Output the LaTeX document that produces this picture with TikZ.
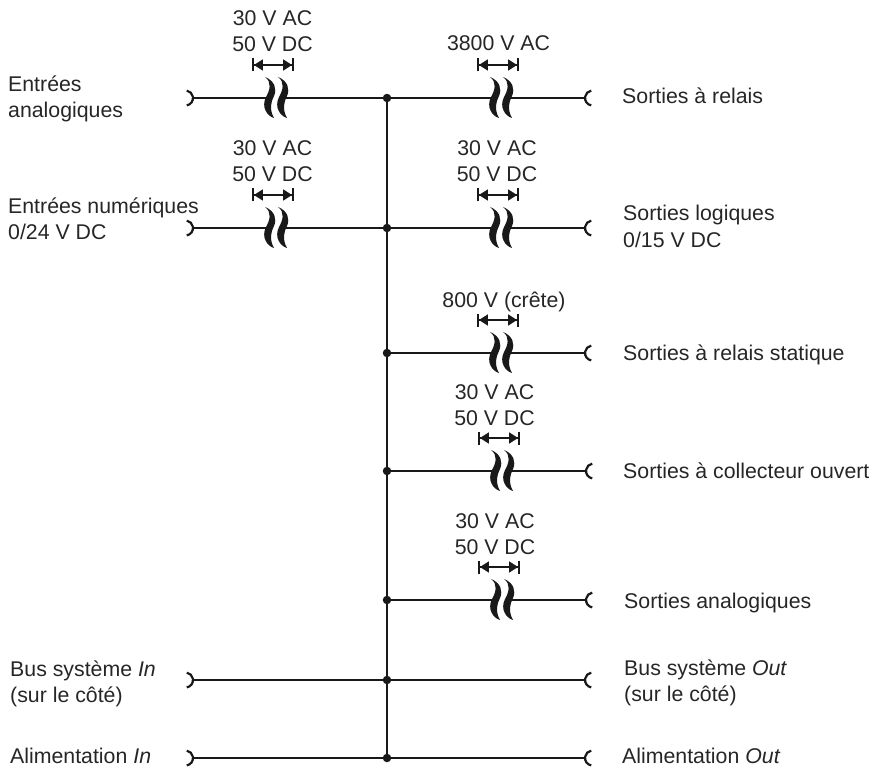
\documentclass[tikz,border=0pt]{standalone}
\usepackage{fontspec}
\setmainfont{Liberation Sans}
\usetikzlibrary{arrows.meta}

\tikzset{
    wire/.style={line width=2.2pt, draw=black!90},
    label/.style={inner sep=0pt, anchor=base west, align=left, font=\fontsize{21.3}{26}\selectfont, text=black!85},
    volt/.style={inner sep=0pt, anchor=base, align=center, font=\fontsize{21.3}{26}\selectfont, text=black!85},
    junction/.style={circle, fill=black!90, inner sep=0pt, minimum size=8.5pt},
    % gap in the wire with the isolation span above it
    pics/coupure/.style={code={
        \coordinate (-w) at (-8,0);
        \coordinate (-e) at (10,0);
        \draw[line width=1.4pt, black!90, {Bar[width=13pt,line width=1.9pt]Triangle[length=9pt,width=11pt]}-{Triangle[length=9pt,width=11pt]Bar[width=13pt,line width=1.9pt]}] (-24,-33) -- (18,-33);
        \foreach \dx in {0,13} {
            \fill[black!90, shift={(\dx,0)}] (-11,-21) .. controls (-1,-17) and (1,-9) .. (-2,-2)
                .. controls (-5,4) and (-7,11) .. (-2,20)
                .. controls (-9,18) and (-15,9) .. (-10,-1)
                .. controls (-6,-8) and (-4,-16) .. (-11,-21) -- cycle;
        }
    }},
    pics/entree/.style={code={
        \draw[line width=2.2pt, black!90] (-6.2,7.4) arc[start angle=80, end angle=-80, radius=7.5];
    }},
    pics/sortie/.style={code={
        \draw[line width=2.2pt, black!90] (6.2,7.4) arc[start angle=100, end angle=260, radius=7.5];
    }}
}

\begin{document}
\begin{tikzpicture}[x=1pt, y=-1pt]
    \useasboundingbox (0,0) rectangle (874,767);

    % junctions on the common line
    \node[junction] (j1) at (387,98) {};
    \node[junction] (j2) at (387,228) {};
    \node[junction] (j3) at (387,353) {};
    \node[junction] (j4) at (387,471) {};
    \node[junction] (j5) at (387,600) {};
    \node[junction] (j6) at (387,680) {};
    \node[junction] (j7) at (387,758) {};
    \draw[wire] (j1.center) -- (j7.center);

    % left side
    \coordinate (in1) at (193,98);
    \coordinate (in2) at (193,228);
    \coordinate (in6) at (193,680);
    \coordinate (in7) at (193,758);
    \pic at (in1) {entree};
    \pic at (in2) {entree};
    \pic at (in6) {entree};
    \pic at (in7) {entree};
    \pic (c1) at (276,98) {coupure};
    \pic (c2) at (276,228) {coupure};
    \draw[wire] (in1) -- (c1-w);
    \draw[wire] (c1-e) -- (j1);
    \draw[wire] (in2) -- (c2-w);
    \draw[wire] (c2-e) -- (j2);
    \draw[wire] (in6) -- (j6);
    \draw[wire] (in7) -- (j7);

    % right side
    \coordinate (out1) at (585,98);
    \coordinate (out2) at (585,228);
    \coordinate (out3) at (585,353);
    \coordinate (out4) at (586,471);
    \coordinate (out5) at (586,600);
    \coordinate (out6) at (585,680);
    \coordinate (out7) at (585,758);
    \pic at (out1) {sortie};
    \pic at (out2) {sortie};
    \pic at (out3) {sortie};
    \pic at (out4) {sortie};
    \pic at (out5) {sortie};
    \pic at (out6) {sortie};
    \pic at (out7) {sortie};
    \pic (c3) at (501,98) {coupure};
    \pic (c4) at (501,228) {coupure};
    \pic (c5) at (501,353) {coupure};
    \pic (c6) at (502,471) {coupure};
    \pic (c7) at (502,600) {coupure};
    \draw[wire] (j1) -- (c3-w);
    \draw[wire] (c3-e) -- (out1);
    \draw[wire] (j2) -- (c4-w);
    \draw[wire] (c4-e) -- (out2);
    \draw[wire] (j3) -- (c5-w);
    \draw[wire] (c5-e) -- (out3);
    \draw[wire] (j4) -- (c6-w);
    \draw[wire] (c6-e) -- (out4);
    \draw[wire] (j5) -- (c7-w);
    \draw[wire] (c7-e) -- (out5);
    \draw[wire] (j6) -- (out6);
    \draw[wire] (j7) -- (out7);

    % voltages
    \node[volt] (v1) at (272.5,52) {30 V AC\\50 V DC};
    \node[volt] (v2) at (272.5,182) {30 V AC\\50 V DC};
    \node[volt] (v3) at (498.5,51) {3800 V AC};
    \node[volt] (v4) at (497,182) {30 V AC\\50 V DC};
    \node[volt] (v5) at (504,307) {800 V (crête)};
    \node[volt] (v6) at (494.5,425) {30 V AC\\50 V DC};
    \node[volt] (v7) at (495,554) {30 V AC\\50 V DC};

    % names
    \node[label] (e1) at (8,118) {Entrées\\analogiques};
    \node[label] (e2) at (8,240) {Entrées numériques\\0/24 V DC};
    \node[label] (e6) at (10,702) {Bus système \textit{In}\\(sur le côté)};
    \node[label] (e7) at (10,763) {Alimentation \textit{In}};
    \node[label] (s1) at (622,104) {Sorties à relais};
    \node[label] (s2) at (623,247) {Sorties logiques\\0/15 V DC};
    \node[label] (s3) at (623,360) {Sorties à relais statique};
    \node[label] (s4) at (623,478) {Sorties à collecteur ouvert};
    \node[label] (s5) at (624,608) {Sorties analogiques};
    \node[label] (s6) at (624,701) {Bus système \textit{Out}\\(sur le côté)};
    \node[label] (s7) at (622,763) {Alimentation \textit{Out}};
\end{tikzpicture}
\end{document}
